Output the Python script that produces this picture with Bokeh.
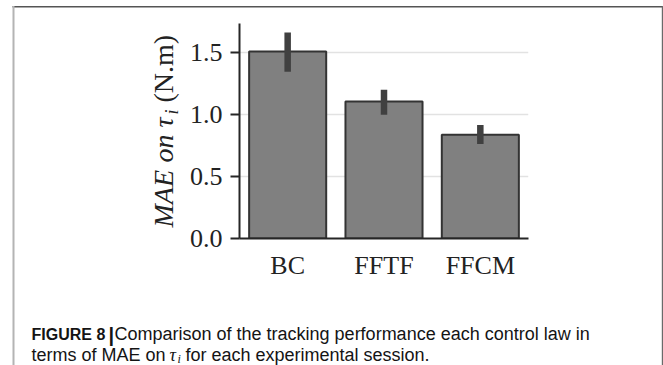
import math
from bokeh.plotting import figure
from bokeh.models import (FixedTicker, NumeralTickFormatter, Range1d, FactorRange,
                          GridBox)
from bokeh.core.properties import value
from bokeh.embed import file_html
from bokeh.resources import INLINE

# ---- data ----
categories = ["BC", "FFTF", "FFCM"]
mae_values = [1.51, 1.107, 0.838]
ci_low = [1.347, 1.0, 0.763]
ci_high = [1.664, 1.201, 0.916]
y_ticks = [0.0, 0.5, 1.0, 1.5]

W, H = 663, 365
FL, FR, FT, FB = 239, 528, 23, 238  # chart frame edges in canvas px

# ---------- background page layer (texts outside the chart frame, page rules) ----------
bg = figure(width=W, height=H, x_range=Range1d(0, W), y_range=Range1d(0, H),
            output_backend="svg", toolbar_location=None, min_border=0,
            x_axis_location=None, y_axis_location=None)
bg.frame_align = False
bg.outline_line_color = None
bg.grid.visible = False
bg.background_fill_color = "white"
bg.border_fill_color = "white"

K = 0.37  # empirical baseline correction per px of font size


def cy(s, size=0):
    return H - (s - K * size)


def cx(s, size=0):
    return s - K * size


# page frame lines
bg.segment(x0=[12], y0=[cy(6.2)], x1=[W], y1=[cy(6.2)], line_color="#555555", line_width=1.6)
bg.segment(x0=[13], y0=[cy(5.4)], x1=[13], y1=[cy(H)], line_color="#b4b4b4", line_width=2)
bg.segment(x0=[662.2], y0=[cy(5.4)], x1=[662.2], y1=[cy(H)], line_color="#6a6a6a", line_width=1.8)

# y-axis label pieces (rotated)
rot = dict(angle=math.pi / 2, text_font=value("Liberation Serif"), text_color="#222222",
           text_baseline="alphabetic", text_align="left")
bg.text(x=[cx(173, 28)], y=[cy(227)], text=["MAE"], text_font_style="italic",
        text_font_size="28px", **rot)
bg.text(x=[cx(173, 28)], y=[cy(162)], text=["on"], text_font_style="italic",
        text_font_size="28px", **rot)
bg.text(x=[cx(173, 28)], y=[cy(127)], text=["τ"], text_font_style="italic",
        text_font_size="28px", **rot)
bg.text(x=[cx(178, 18)], y=[cy(114)], text=["i"], text_font_style="italic",
        text_font_size="18px", **rot)
bg.text(x=[cx(173, 28)], y=[cy(102)], text=["(N.m)"], text_font_style="normal",
        text_font_size="28px", **rot)

# caption
cap = dict(text_baseline="alphabetic", text_align="left", text_color="#141414")
bg.text(x=[31], y=[cy(340, 16)], text=["FIGURE 8"], text_font=value("Liberation Sans"),
        text_font_style="bold", text_font_size="16px", **cap)
bg.text(x=[108], y=[cy(342, 20)], text=["|"], text_font=value("Liberation Sans"),
        text_font_style="bold", text_font_size="20px", **cap)
bg.text(x=[114], y=[cy(340, 18)],
        text=["Comparison of the tracking performance each control law in"],
        text_font=value("Liberation Sans"), text_font_size="18px", **cap)
bg.text(x=[31], y=[cy(361, 18)], text=["terms of MAE on"],
        text_font=value("Liberation Sans"), text_font_size="18px", **cap)
bg.text(x=[169], y=[cy(361, 18)], text=["τ"], text_font=value("Liberation Serif"),
        text_font_style="italic", text_font_size="18px", **cap)
bg.text(x=[177], y=[cy(363, 12)], text=["i"], text_font=value("Liberation Serif"),
        text_font_style="italic", text_font_size="12px", **cap)
bg.text(x=[185], y=[cy(361, 18)], text=["for each experimental session."],
        text_font=value("Liberation Sans"), text_font_size="18px", **cap)

# ---------- chart layer ----------
p = figure(width=W, height=H, x_range=FactorRange(*categories),
           y_range=Range1d(0, 1.737), output_backend="svg", toolbar_location=None,
           min_border_left=FL, min_border_right=W - FR, min_border_top=FT,
           min_border_bottom=H - FB)
p.frame_align = False
p.outline_line_color = None
p.background_fill_color = None
p.border_fill_color = None

p.vbar(x=categories, top=mae_values, width=0.8, fill_color="#808080",
       line_color="#333333", line_width=2)
p.segment(x0=categories, y0=ci_low, x1=categories, y1=ci_high,
          line_color="#404040", line_width=6.5, line_cap="butt")

ax_col = "#262626"
for ax in (p.xaxis[0], p.yaxis[0]):
    ax.axis_line_width = 2
    ax.axis_line_color = ax_col
    ax.major_tick_line_width = 2
    ax.major_tick_line_color = ax_col
    ax.minor_tick_line_color = None
    ax.major_label_text_font = "Liberation Serif"
    ax.major_label_text_font_size = "26px"
    ax.major_label_text_color = "#222222"

p.yaxis.ticker = FixedTicker(ticks=y_ticks)
p.yaxis.formatter = NumeralTickFormatter(format="0.0")
p.yaxis.major_tick_out = 9
p.yaxis.major_tick_in = 0
p.yaxis.major_label_standoff = 8
p.xaxis.major_tick_out = 0
p.xaxis.major_tick_in = 0
p.xaxis.major_label_standoff = 12

p.xgrid.visible = False
p.ygrid.ticker = FixedTicker(ticks=y_ticks)
p.ygrid.grid_line_color = "#e2e2e2"
p.ygrid.grid_line_width = 1.3

layout = GridBox(children=[(bg, 0, 0), (p, 0, 0)])

open("out.html", "w").write(file_html(layout, INLINE))
